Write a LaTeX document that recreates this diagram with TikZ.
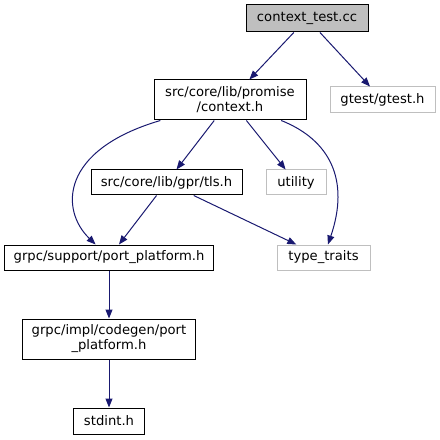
\documentclass[tikz,border=0pt]{standalone}
\usepackage{fontspec}
\setmainfont{DejaVu Sans}
\usetikzlibrary{arrows.meta}
\definecolor{edgeblue}{HTML}{191970}
\definecolor{extgrey}{HTML}{BFBFBF}
\tikzstyle{header} = [rectangle, inner sep=0pt, text centered, align=center, draw=black, line width=1bp, font=\fontsize{13.2}{15}\selectfont]
\tikzstyle{root} = [header, fill=extgrey]
\tikzstyle{external} = [header, draw=extgrey]
\tikzstyle{edge} = [draw=edgeblue, line width=1bp, -{Triangle[length=9bp, width=7bp]}, edgeblue]

\begin{document}
\begin{tikzpicture}[x=1bp, y=-1bp]
\useasboundingbox (0,0) rectangle (440,440);

\node (0) [root, minimum width=122bp, minimum height=27bp] at (307,18.5) {context\_test.cc};
\node (1) [header, minimum width=152bp, minimum height=40bp] at (230,100) {src/core/lib/promise\\/context.h};
\node (2) [external, minimum width=105bp, minimum height=26bp] at (382.5,100) {gtest/gtest.h};
\node (3) [header, minimum width=151bp, minimum height=25bp] at (166.5,182.5) {src/core/lib/gpr/tls.h};
\node (4) [external, minimum width=60bp, minimum height=25bp] at (296,182.5) {utility};
\node (5) [header, minimum width=208bp, minimum height=25bp] at (109,257.5) {grpc/support/port\_platform.h};
\node (6) [external, minimum width=93bp, minimum height=25bp] at (323.5,257.5) {type\_traits};
\node (7) [header, minimum width=172bp, minimum height=40bp] at (109,339) {grpc/impl/codegen/port\\\_platform.h};
\node (8) [header, minimum width=71bp, minimum height=26bp] at (109,421) {stdint.h};

\draw [edge] (0) -- (1);
\draw [edge] (0) -- (2);
\draw [edge] (1) .. controls (60,150) and (60,210) .. (5);
\draw [edge] (1) -- (3);
\draw [edge] (1) -- (4);
\draw [edge] (1) .. controls (330,140) and (350,180) .. (6);
\draw [edge] (3) -- (5);
\draw [edge] (3) -- (6);
\draw [edge] (5) -- (7);
\draw [edge] (7) -- (8);

\end{tikzpicture}
\end{document}
